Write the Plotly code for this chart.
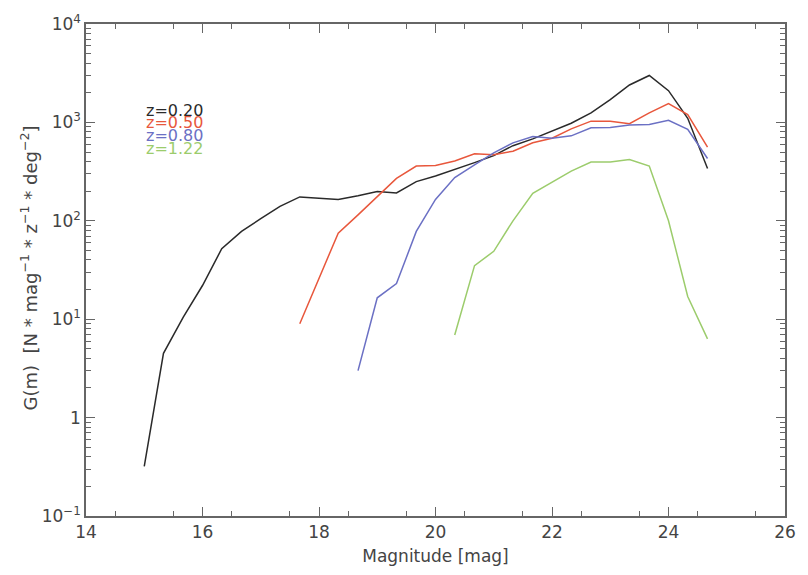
import numpy as np
import plotly.graph_objects as go

# magnitude grid points (mag) for each series
mag_z020 = [15.0, 15.33, 15.67, 16.0, 16.33, 16.67, 17.0, 17.33, 17.67, 18.0, 18.33, 18.67,
            19.0, 19.33, 19.67, 20.0, 20.33, 20.67, 21.0, 21.33, 21.67, 22.0, 22.33, 22.67,
            23.0, 23.33, 23.67, 24.0, 24.33, 24.67]
g_z020 = [0.32, 4.5, 10.5, 22, 52, 78, 105, 140, 175, 170, 165, 180,
          198, 192, 250, 285, 330, 390, 460, 580, 680, 820, 980, 1250,
          1700, 2400, 3000, 2100, 1100, 340]

mag_z050 = [17.67, 18.33, 18.67, 19.0, 19.33, 19.67, 20.0, 20.33, 20.67, 21.0, 21.33, 21.67,
            22.0, 22.33, 22.67, 23.0, 23.33, 23.67, 24.0, 24.33, 24.67]
g_z050 = [9, 75, 115, 175, 270, 360, 365, 405, 480, 470, 510, 620,
          690, 860, 1030, 1030, 970, 1250, 1550, 1200, 560]

mag_z080 = [18.67, 19.0, 19.33, 19.67, 20.0, 20.33, 20.67, 21.0, 21.33, 21.67,
            22.0, 22.33, 22.67, 23.0, 23.33, 23.67, 24.0, 24.33, 24.67]
g_z080 = [3.0, 16.5, 23, 78, 165, 275, 370, 490, 620, 720,
          690, 730, 880, 890, 940, 950, 1050, 850, 430]

mag_z122 = [20.33, 20.67, 21.0, 21.33, 21.67, 22.0, 22.33, 22.67, 23.0, 23.33, 23.67,
            24.0, 24.33, 24.67]
g_z122 = [6.9, 35, 49, 100, 190, 245, 320, 395, 395, 420, 360,
          100, 17, 6.3]

labels = ["z=0.20", "z=0.50", "z=0.80", "z=1.22"]
colors = ["#2a2a2a", "#e8573c", "#6b70c4", "#9ccc6c"]

x_ticks = [14, 16, 18, 20, 22, 24, 26]
y_tickvals = [0.1, 1, 10, 100, 1000, 10000]
y_ticktext = ["10<sup>−1</sup>", "1", "10<sup>1</sup>", "10<sup>2</sup>", "10<sup>3</sup>", "10<sup>4</sup>"]

x_title = "Magnitude [mag]"
y_title = ("G(m)\u00a0\u00a0[N\u00a0*\u00a0mag<sup>−1</sup>\u00a0*\u00a0z<sup>−1</sup>"
           "\u00a0*\u00a0deg<sup>−2</sup>]")

series = [(mag_z020, g_z020), (mag_z050, g_z050), (mag_z080, g_z080), (mag_z122, g_z122)]

fig = go.Figure()
for (xs, ys), lab, col in zip(series, labels, colors):
    fig.add_trace(go.Scatter(x=xs, y=ys, mode="lines", name=lab,
                             line=dict(color=col, width=1.5), showlegend=False))

label_y = [0.824, 0.799, 0.774, 0.746]
for lab, col, yy in zip(labels, colors, label_y):
    fig.add_annotation(text=lab, x=0.083, y=yy, xref="paper", yref="paper",
                       xanchor="left", yanchor="middle", showarrow=False,
                       font=dict(color=col, size=16, family="DejaVu Sans"))

# y-axis title as rotated annotation
fig.add_annotation(text=y_title, x=-0.081, y=0.504, xref="paper", yref="paper",
                   xanchor="center", yanchor="middle", textangle=-90, showarrow=False,
                   font=dict(color="#444444", size=18, family="DejaVu Sans"))

minor_y = [m * 10.0 ** e for e in range(-1, 4) for m in range(2, 10)]
axis_col = "#666666"
fig.update_layout(
    width=808, height=575,
    margin=dict(l=86, r=14, t=24, b=51),
    plot_bgcolor="white", paper_bgcolor="white",
    font=dict(family="DejaVu Sans", color="#444444", size=16),
    xaxis=dict(range=[14, 26], tickvals=x_ticks, ticks="inside", ticklen=9,
               tickcolor=axis_col, showline=True, linecolor=axis_col, linewidth=1.5,
               mirror="ticks", showgrid=False, zeroline=False,
               minor=dict(tickvals=[v + 0.5 for v in range(14, 26)], ticks="inside",
                          ticklen=5, tickcolor=axis_col, showgrid=False),
               title=dict(text=x_title, font=dict(size=17), standoff=9),
               tickfont=dict(size=17)),
    yaxis=dict(type="log", range=[-1, 4], tickvals=y_tickvals, ticktext=y_ticktext,
               ticks="inside", ticklen=9, tickcolor=axis_col, showline=True,
               linecolor=axis_col, linewidth=1.5, mirror="ticks", showgrid=False,
               zeroline=False,
               minor=dict(tickvals=minor_y, ticks="inside", ticklen=5,
                          tickcolor=axis_col, showgrid=False),
               tickfont=dict(size=17)),
)

fig.write_html("out.html")
